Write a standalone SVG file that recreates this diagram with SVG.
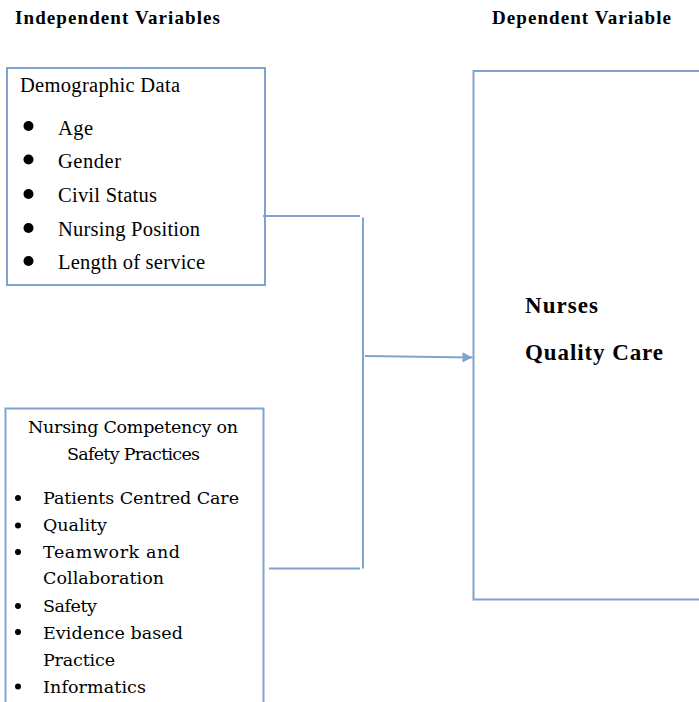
<svg xmlns="http://www.w3.org/2000/svg" width="699" height="702" viewBox="0 0 699 702">
  <style>
    .box { fill: #ffffff; stroke: #7fa3cf; stroke-width: 2; }
    .wire { fill: none; stroke: #7fa3cf; stroke-width: 2; }
    .head { font-family: "Liberation Serif", "Times New Roman", serif; font-weight: bold; font-size: 19px; fill: #000; }
    .big { font-family: "Liberation Serif", "Times New Roman", serif; font-weight: bold; font-size: 23px; fill: #000; }
    .t1 { font-family: "Liberation Serif", "Times New Roman", serif; font-size: 20.5px; fill: #000; }
    .t2 { font-family: "DejaVu Serif", "Liberation Serif", serif; font-size: 17.5px; fill: #000; }
    .dot { fill: #000; }
  </style>
  <defs>
    <marker id="arrow" viewBox="0 0 10 10" refX="10" refY="5" markerWidth="6" markerHeight="5" orient="auto" markerUnits="strokeWidth">
      <path d="M0,0 L10,5 L0,10 z" fill="#7fa3cf"/>
    </marker>
  </defs>

  <!-- column headings -->
  <text class="head" x="15" y="24" textLength="205" lengthAdjust="spacing">Independent Variables</text>
  <text class="head" x="492" y="24" textLength="179" lengthAdjust="spacing">Dependent Variable</text>

  <!-- demographic data -->
  <g id="demographic">
    <rect class="box" x="7" y="68" width="258" height="217"/>
    <text class="t1" x="20" y="92" textLength="160" lengthAdjust="spacing">Demographic Data</text>
    <circle class="dot" cx="28.5" cy="126" r="5"/>
    <circle class="dot" cx="28.5" cy="159.5" r="5"/>
    <circle class="dot" cx="28.5" cy="194" r="5"/>
    <circle class="dot" cx="28.5" cy="228" r="5"/>
    <circle class="dot" cx="28.5" cy="261" r="5"/>
    <text class="t1" x="58" y="135" textLength="35" lengthAdjust="spacing">Age</text>
    <text class="t1" x="58" y="168" textLength="63" lengthAdjust="spacing">Gender</text>
    <text class="t1" x="58" y="202" textLength="99" lengthAdjust="spacing">Civil Status</text>
    <text class="t1" x="58" y="236" textLength="142" lengthAdjust="spacing">Nursing Position</text>
    <text class="t1" x="58" y="269" textLength="147" lengthAdjust="spacing">Length of service</text>
  </g>

  <!-- nursing competency -->
  <g id="competency">
    <rect class="box" x="5.5" y="408.5" width="258" height="300"/>
    <text class="t2" x="28" y="433" textLength="210" lengthAdjust="spacing">Nursing Competency on</text>
    <text class="t2" x="67" y="460" textLength="133" lengthAdjust="spacing">Safety Practices</text>
    <circle class="dot" cx="18" cy="498" r="3"/>
    <circle class="dot" cx="18" cy="525.5" r="3"/>
    <circle class="dot" cx="18" cy="552" r="3"/>
    <circle class="dot" cx="18" cy="606" r="3"/>
    <circle class="dot" cx="18" cy="632" r="3"/>
    <circle class="dot" cx="18" cy="686.5" r="3"/>
    <text class="t2" x="43" y="504" textLength="196" lengthAdjust="spacing">Patients Centred Care</text>
    <text class="t2" x="43" y="531" textLength="64" lengthAdjust="spacing">Quality</text>
    <text class="t2" x="43" y="558" textLength="137" lengthAdjust="spacing">Teamwork and</text>
    <text class="t2" x="43" y="584" textLength="121" lengthAdjust="spacing">Collaboration</text>
    <text class="t2" x="43" y="612" textLength="54" lengthAdjust="spacing">Safety</text>
    <text class="t2" x="43" y="639" textLength="140" lengthAdjust="spacing">Evidence based</text>
    <text class="t2" x="43" y="666" textLength="72" lengthAdjust="spacing">Practice</text>
    <text class="t2" x="43" y="693" textLength="103" lengthAdjust="spacing">Informatics</text>
  </g>

  <!-- outcome -->
  <g id="quality-care">
    <rect class="box" x="473.5" y="71" width="240" height="528.5"/>
    <text class="big" x="525" y="313" textLength="73" lengthAdjust="spacing">Nurses</text>
    <text class="big" x="525" y="360" textLength="138" lengthAdjust="spacing">Quality Care</text>
  </g>

  <!-- connectors -->
  <g id="connectors">
    <path class="wire" d="M263,216 H360"/>
    <path class="wire" d="M363,217.5 V568.5"/>
    <path class="wire" d="M269,568.5 H360"/>
    <path class="wire" d="M365,356 L472.5,357.5" marker-end="url(#arrow)"/>
  </g>
</svg>
